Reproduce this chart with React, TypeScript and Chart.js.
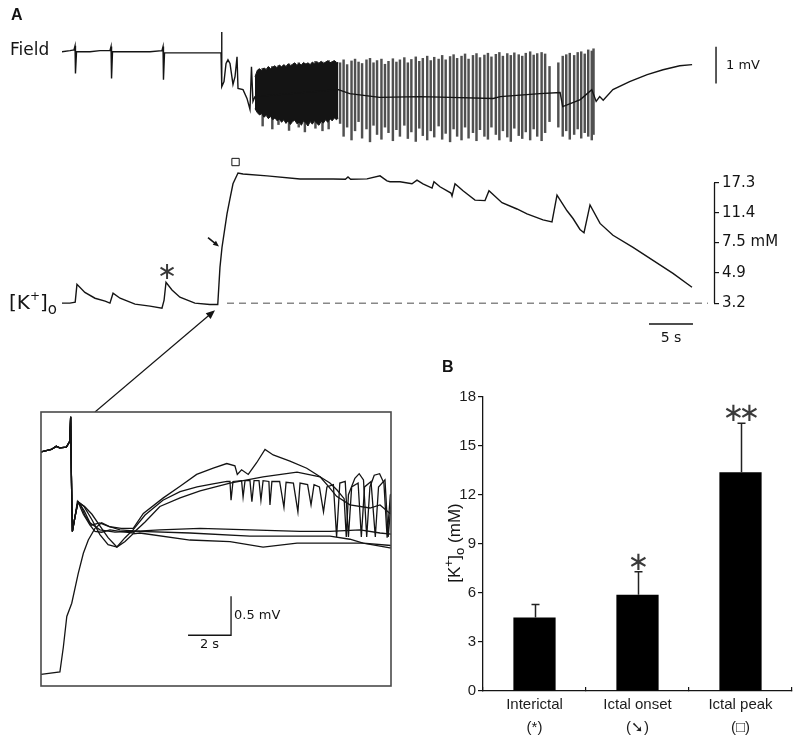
import React, { useEffect, useRef } from "react";
import { Chart, registerables } from "chart.js";

Chart.register(...registerables);

const SANS = '"DejaVu Sans", Verdana, sans-serif';
const ARIAL = '"Liberation Sans", Arial, Helvetica, sans-serif';
const INK = "#141414";

// ---------- Panel A: field potential (time s, field mV) ----------
const FIELD_T = [
  0, 0.91, 1.36, 1.48, 1.53, 1.65, 3.18, 4.32, 5.45, 5.57, 5.63, 5.74, 7.73, 10.0, 11.36, 11.48, 11.53, 11.65,
  14.55, 18.07, 18.13, 18.18, 18.41, 18.64, 18.86, 19.09, 19.43, 19.66, 19.89, 20.0, 20.57, 21.02, 21.36, 21.53,
  21.7, 21.93, 31.4, 32.7, 36.1, 40.7, 44.1, 49.0, 49.8, 54.3, 56.6, 56.9, 58.9, 60.2, 60.7, 61.1, 61.5, 62.6,
  64.5, 66.5, 68.3, 70.2, 71.6,
];
const FIELD_MV = [
  0, 0.03, 0.05, 0.16, -0.59, 0, 0, 0.03, 0.03, 0.14, -0.73, 0, 0, 0, 0.03, 0.14, -0.76, -0.03,
  -0.03, -0.03, 0.54, -0.95, -0.81, -0.32, -0.22, -0.32, -0.89, -0.68, -0.14, -1.0, -1.03, -1.27, -1.57, -0.41,
  -1.35, -1.22, -1.03, -1.14, -1.24, -1.22, -1.24, -1.27, -1.22, -1.14, -1.11, -1.49, -1.3, -1.03, -1.35, -1.22,
  -1.32, -1.03, -0.81, -0.62, -0.49, -0.38, -0.35,
];

// dense tonic discharge envelope (s, mV)
const ENV_T = [
  21.93, 22.2, 22.45, 22.7, 22.95, 23.2, 23.45, 23.7, 23.95, 24.2, 24.45, 24.7, 24.95, 25.2, 25.45, 25.7, 25.95,
  26.2, 26.45, 26.7, 26.95, 27.2, 27.45, 27.7, 27.95, 28.2, 28.45, 28.7, 28.95, 29.2, 29.45, 29.7, 29.95, 30.2,
  30.45, 30.7, 30.95, 31.2, 31.4,
];
const ENV_HI = [
  -0.68, -0.5, -0.46, -0.52, -0.44, -0.48, -0.4, -0.46, -0.42, -0.38, -0.44, -0.36, -0.41, -0.35, -0.4, -0.33, -0.38,
  -0.34, -0.3, -0.37, -0.32, -0.36, -0.29, -0.34, -0.3, -0.35, -0.28, -0.33, -0.27, -0.31, -0.26, -0.32, -0.28, -0.25,
  -0.3, -0.27, -0.24, -0.29, -0.3,
];
const ENV_LO = [
  -1.55, -1.66, -1.72, -1.68, -1.78, -1.73, -1.82, -1.76, -1.85, -1.8, -1.88, -1.83, -1.92, -1.85, -1.95, -1.87, -1.98,
  -1.9, -1.86, -1.96, -1.91, -2.0, -1.88, -1.94, -2.02, -1.9, -1.97, -1.87, -1.95, -2.0, -1.89, -1.94, -1.85, -1.92,
  -1.82, -1.88, -1.8, -1.85, -1.8,
];

// population spikes (s, top mV, bottom mV)
const SPIKE_T = [
  22.8, 23.9, 24.6, 25.8, 26.9, 27.6, 28.8, 29.6, 30.3,
  31.6, 32.0, 32.4, 32.9, 33.3, 33.7, 34.1, 34.6, 35.0, 35.4,
  35.8, 36.3, 36.7, 37.1, 37.6, 38.0, 38.4, 38.9, 39.3, 39.7,
  40.2, 40.6, 41.0, 41.5, 41.9, 42.3, 42.8, 43.2, 43.6, 44.1,
  44.5, 44.9, 45.4, 45.8, 46.2, 46.7, 47.1, 47.5, 48.0, 48.4,
  48.8, 49.3, 49.7, 50.1, 50.6, 51.0, 51.4, 51.9, 52.3, 52.7,
  53.2, 53.6, 54.0, 54.5, 54.9, 55.4, 56.4, 56.9, 57.3, 57.7,
  58.2, 58.6, 59.0, 59.4, 59.8, 60.2, 60.4,
];
const SPIKE_HI = [
  -0.45, -0.4, -0.38, -0.33, -0.3, -0.32, -0.26, -0.28, -0.24,
  -0.3, -0.22, -0.35, -0.25, -0.2, -0.28, -0.32, -0.22, -0.18, -0.3,
  -0.24, -0.2, -0.34, -0.26, -0.19, -0.28, -0.22, -0.16, -0.3, -0.21,
  -0.14, -0.26, -0.18, -0.12, -0.24, -0.15, -0.2, -0.1, -0.22, -0.13,
  -0.08, -0.18, -0.12, -0.06, -0.2, -0.1, -0.05, -0.16, -0.09, -0.04,
  -0.14, -0.07, -0.02, -0.12, -0.05, -0.1, -0.03, -0.08, -0.12, -0.04,
  0.0, -0.09, -0.05, -0.02, -0.06, -0.4, -0.3, -0.12, -0.08, -0.04,
  -0.1, -0.02, 0.0, -0.06, 0.05, 0.02, 0.08,
];
const SPIKE_LO = [
  -2.02, -2.1, -1.98, -2.14, -2.05, -2.18, -2.08, -2.15, -2.1,
  -1.95, -2.3, -2.05, -2.4, -2.15, -1.9, -2.35, -2.1, -2.45, -2.0,
  -2.25, -2.38, -2.05, -2.2, -2.42, -2.12, -2.3, -2.0, -2.36, -2.18,
  -2.44, -2.08, -2.28, -2.4, -2.15, -2.32, -2.02, -2.38, -2.22, -2.45,
  -2.1, -2.3, -2.4, -2.05, -2.35, -2.2, -2.42, -2.12, -2.3, -2.38,
  -2.05, -2.25, -2.4, -2.15, -2.32, -2.44, -2.08, -2.28, -2.36, -2.18,
  -2.4, -2.1, -2.3, -2.42, -2.2, -1.9, -2.05, -2.3, -2.15, -2.38,
  -2.25, -2.1, -2.35, -2.2, -2.3, -2.4, -2.25,
];

// ---------- Panel A: [K+]o (time s, mM) ----------
const K_T = [
  0, 0.9, 1.5, 1.7, 2.6, 3.75, 4.9, 5.45, 5.8, 6.6, 8.3, 10.0, 11.36, 11.6, 11.82, 12.5, 13.4, 15.1, 16.8, 17.7,
  17.95, 18.18, 18.75, 19.1, 19.43, 20.0, 20.57, 23.3, 27.05, 30.8, 32.2, 32.5, 32.8, 34.66, 36.14, 36.93, 37.27,
  38.41, 39.77, 40.34, 41.02, 42.05, 42.27, 42.95, 44.2, 44.32, 44.66, 45.57, 46.93, 48.07, 48.52, 50.0, 51.7,
  52.84, 54.66, 55.68, 56.25, 57.39, 58.07, 58.86, 59.32, 60.0, 61.14, 62.61, 64.89, 67.16, 69.43, 71.59,
];
const K_MM = [
  3.2, 3.2, 3.25, 4.17, 3.72, 3.43, 3.29, 3.2, 3.68, 3.43, 3.16, 3.07, 2.98, 3.34, 4.29, 3.85, 3.48, 3.2, 3.14, 3.14,
  5.29, 6.99, 11.2, 14.0, 17.1, 19.9, 19.6, 19.1, 18.3, 18.3, 18.2, 18.8, 18.2, 18.3, 19.1, 17.8, 17.6,
  17.6, 17.1, 18.0, 17.1, 16.1, 17.6, 16.4, 15.0, 14.4, 17.1, 15.5, 13.6, 13.5, 15.5, 13.1, 12.0,
  11.2, 10.3, 10.0, 14.6, 11.7, 10.5, 9.0, 8.6, 12.7, 9.8, 8.3, 7.0, 5.83, 4.86, 4.0,
];
const K_TICKS = [3.2, 4.9, 7.5, 11.4, 17.3];
const K_BASE_T = [18.75, 73.4];
const K_BASE = 3.2;
const PEAK_MARK = [19.72, 23.2]; // open square (s, mM)
const STAR_MARK = [11.93, 5.0]; // interictal asterisk (s, mM)
const ONSET_ARROW = [16.59, 8.03, 17.84, 7.08]; // t0, k0, t1, k1
const ZOOM_ARROW_TIP = [17.39, 2.9];
const ZOOM_ARROW_TAIL_T = 3.75;
const FIELD_BAR = [74.32, 0.135, -0.865]; // t, top mV, bottom mV (1 mV)
const TIME_BAR = [66.7, 71.7, 2.39]; // 5 s

// ---------- Inset (time s, mV) ----------
const ONSET_T = [0, 0.48, 0.71, 0.87, 1.18, 1.33, 1.38, 1.41, 1.46, 1.57];
const ONSET_V = [3.0, 3.03, 3.07, 3.05, 3.06, 3.13, 3.45, 2.75, 1.98, 2.15];
const TR_A_T = [1.69, 1.85, 2.03, 2.34, 2.73, 3.2, 3.73, 4.29, 4.76, 5.69, 6.47, 7.24, 8.01, 8.64, 9.02, 9.13, 9.33, 9.64, 10.03, 10.42, 10.8, 11.58, 12.36, 12.98, 13.36, 13.75, 14.37, 15.3, 15.77, 16.23, 16.5];
const TR_A_V = [2.36, 2.32, 2.19, 2.06, 2.09, 2.04, 2.02, 2.02, 2.21, 2.41, 2.56, 2.71, 2.79, 2.85, 2.82, 2.71, 2.77, 2.71, 2.86, 3.03, 2.96, 2.88, 2.79, 2.68, 2.56, 2.43, 2.32, 2.28, 2.32, 2.21, 2.2];
const TR_B_T = [1.72, 2.0, 2.37, 2.74, 3.12, 3.53, 3.91, 4.28, 4.84, 5.67, 6.47, 7.26, 8.0, 8.65, 8.79, 8.84, 8.93, 9.33, 9.4, 9.49, 9.72, 9.81, 9.91, 10.14, 10.23, 10.33, 10.6, 10.65, 10.74, 11.1, 11.3, 11.4, 11.74, 11.95, 12.05, 12.4, 12.56, 12.7, 12.95, 13.14, 13.3, 13.6, 13.75, 13.9, 14.15, 14.3, 14.45, 14.75, 14.9, 15.05, 15.35, 15.55, 15.7, 16.0, 16.15, 16.3];
const TR_B_V = [2.36, 2.3, 2.13, 1.94, 1.81, 1.78, 1.9, 2.0, 2.19, 2.38, 2.49, 2.55, 2.59, 2.62, 2.62, 2.38, 2.62, 2.63, 2.42, 2.63, 2.63, 2.36, 2.63, 2.63, 2.38, 2.63, 2.62, 2.32, 2.62, 2.62, 2.29, 2.61, 2.6, 2.23, 2.6, 2.58, 2.32, 2.58, 2.55, 2.23, 2.55, 2.58, 1.91, 2.6, 2.62, 1.91, 2.55, 2.6, 1.91, 2.55, 2.62, 1.91, 2.55, 2.64, 1.91, 2.4];
const TR_C_T = [1.72, 1.97, 2.28, 2.51, 2.82, 3.21, 3.67, 4.29, 4.84, 5.53, 6.47, 7.4, 8.79, 10.33, 11.91, 12.98, 13.44, 13.77, 14.1, 14.2, 14.3, 14.6, 14.8, 15.0, 15.15, 15.3, 15.5, 15.75, 15.95, 16.1, 16.25, 16.5];
const TR_C_V = [2.36, 2.2, 2.06, 1.98, 1.97, 2.0, 1.98, 1.96, 2.1, 2.3, 2.41, 2.5, 2.6, 2.68, 2.74, 2.68, 2.6, 2.51, 2.4, 1.91, 2.45, 2.66, 2.72, 2.64, 1.91, 2.55, 2.7, 2.72, 2.6, 1.9, 2.45, 2.5];
const TR_D_T = [1.72, 2.0, 2.28, 2.74, 3.44, 4.28, 5.53, 7.4, 9.72, 12.05, 13.44, 14.84, 15.77, 16.5];
const TR_D_V = [2.36, 2.25, 2.09, 2.0, 1.97, 1.98, 2.0, 2.02, 2.0, 1.98, 1.98, 2.0, 1.96, 1.94];
const TR_E_T = [1.72, 2.03, 2.37, 2.74, 3.12, 3.53, 3.91, 4.28, 4.6, 6.93, 8.79, 10.33, 11.91, 14.98, 16.23, 16.5];
const TR_E_V = [2.36, 2.3, 2.2, 2.05, 1.9, 1.78, 1.85, 1.95, 1.96, 1.87, 1.85, 1.78, 1.83, 1.83, 1.77, 1.77];
const TR_K_T = [0, 0.88, 1.04, 1.2, 1.43, 1.73, 1.97, 2.2, 2.51, 2.82, 3.21, 3.67, 4.6, 6.93, 9.72, 12.05, 13.44, 14.37, 14.98, 16.28, 16.5];
const TR_K_V = [0.15, 0.18, 0.5, 0.89, 1.06, 1.44, 1.7, 1.87, 2.02, 2.09, 2.04, 2.0, 1.98, 1.96, 1.92, 1.92, 1.92, 1.88, 1.83, 1.8, 1.8];
const INSET_BAR = [6.84, 8.84, 0.65, 1.15]; // 2 s, 0.5 mV

// ---------- Panel B ----------
const BAR_LABELS = [["Interictal", "(*)"], ["Ictal onset", "(\u2798)"], ["Ictal peak", "(\u25A1)"]];
const BAR_VALUES = [4.5, 5.9, 13.4];
const BAR_SEM = [0.8, 1.4, 3.0];
const BAR_SIG = [0, 1, 2]; // number of asterisks
const B_TICK_STEP = 3;

const pts = (xs: number[], ys: number[]) => xs.map((x, i) => ({ x, y: ys[i] }));

function drawArrow(ctx: any, x0: number, y0: number, x1: number, y1: number, head: number, lw: number) {
  const a = Math.atan2(y1 - y0, x1 - x0);
  ctx.lineWidth = lw;
  ctx.beginPath();
  ctx.moveTo(x0, y0);
  ctx.lineTo(x1 - Math.cos(a) * head * 0.7, y1 - Math.sin(a) * head * 0.7);
  ctx.stroke();
  const w = head * 0.42;
  ctx.beginPath();
  ctx.moveTo(x1, y1);
  ctx.lineTo(x1 - head * Math.cos(a) + w * Math.sin(a), y1 - head * Math.sin(a) - w * Math.cos(a));
  ctx.lineTo(x1 - head * Math.cos(a) - w * Math.sin(a), y1 - head * Math.sin(a) + w * Math.cos(a));
  ctx.closePath();
  ctx.fill();
}

const traceDecor = {
  id: "traceDecor",
  afterDatasetsDraw(chart: any) {
    const { ctx } = chart;
    const xs = chart.scales.x, yF = chart.scales.yF, yK = chart.scales.yK;
    ctx.save();
    ctx.strokeStyle = INK;
    ctx.fillStyle = INK;
    // K axis spine between first and last tick
    const ax = Math.round(yK.left) + 0.5;
    ctx.lineWidth = 1.3;
    ctx.beginPath();
    ctx.moveTo(ax, yK.getPixelForValue(K_TICKS[0]));
    ctx.lineTo(ax, yK.getPixelForValue(K_TICKS[K_TICKS.length - 1]));
    ctx.stroke();
    // 1 mV bar
    const fx = xs.getPixelForValue(FIELD_BAR[0]);
    const fy0 = yF.getPixelForValue(FIELD_BAR[1]);
    const fy1 = yF.getPixelForValue(FIELD_BAR[2]);
    ctx.lineWidth = 1.4;
    ctx.beginPath();
    ctx.moveTo(fx, fy0);
    ctx.lineTo(fx, fy1);
    ctx.stroke();
    ctx.font = `13px ${SANS}`;
    ctx.textAlign = "left";
    ctx.textBaseline = "middle";
    ctx.fillText("1 mV", fx + 10, (fy0 + fy1) / 2);
    // 5 s bar
    const tx0 = xs.getPixelForValue(TIME_BAR[0]);
    const tx1 = xs.getPixelForValue(TIME_BAR[1]);
    const ty = yK.getPixelForValue(TIME_BAR[2]);
    ctx.beginPath();
    ctx.moveTo(tx0, ty);
    ctx.lineTo(tx1, ty);
    ctx.stroke();
    ctx.font = `14px ${SANS}`;
    ctx.textAlign = "center";
    ctx.fillText("5 s", (tx0 + tx1) / 2, ty + 14);
    // asterisk on interictal event
    ctx.font = `24px ${SANS}`;
    ctx.fillStyle = "#3a3a3a";
    ctx.fillText("\u2217", xs.getPixelForValue(STAR_MARK[0]), yK.getPixelForValue(STAR_MARK[1]) + 1);
    ctx.fillStyle = INK;
    // onset arrow
    drawArrow(
      ctx,
      xs.getPixelForValue(ONSET_ARROW[0]), yK.getPixelForValue(ONSET_ARROW[1]),
      xs.getPixelForValue(ONSET_ARROW[2]), yK.getPixelForValue(ONSET_ARROW[3]),
      6, 1.6
    );
    // arrow from inset to trace
    drawArrow(
      ctx,
      xs.getPixelForValue(ZOOM_ARROW_TAIL_T), chart.height,
      xs.getPixelForValue(ZOOM_ARROW_TIP[0]), yK.getPixelForValue(ZOOM_ARROW_TIP[1]),
      9, 1.2
    );
    ctx.restore();
  },
};

function TraceChart() {
  const ref = useRef<HTMLCanvasElement>(null);
  useEffect(() => {
    const spikes = SPIKE_T.map((t, i) => ({ x: t, y: [SPIKE_LO[i], SPIKE_HI[i]] }));
    const chart = new Chart(ref.current as HTMLCanvasElement, {
      type: "line",
      data: {
        datasets: [
          {
            data: [{ x: PEAK_MARK[0], y: PEAK_MARK[1] }],
            yAxisID: "yK",
            showLine: false,
            pointStyle: "rect",
            pointRadius: 5.2,
            backgroundColor: "#fff",
            borderColor: INK,
            borderWidth: 1,
          } as any,
          { data: pts(K_T, K_MM), yAxisID: "yK", borderColor: INK, borderWidth: 1.4, pointRadius: 0 },
          {
            data: K_BASE_T.map((t) => ({ x: t, y: K_BASE })),
            yAxisID: "yK",
            borderColor: "#888",
            borderWidth: 1.5,
            borderDash: [7, 5],
            pointRadius: 0,
          },
          { data: pts(FIELD_T, FIELD_MV), yAxisID: "yF", borderColor: INK, borderWidth: 1.4, pointRadius: 0 },
          {
            data: pts(ENV_T, ENV_HI),
            yAxisID: "yF",
            borderColor: INK,
            borderWidth: 1,
            pointRadius: 0,
            fill: "+1",
            backgroundColor: INK,
          },
          { data: pts(ENV_T, ENV_LO), yAxisID: "yF", borderColor: INK, borderWidth: 1, pointRadius: 0, fill: false },
          {
            type: "bar",
            data: spikes,
            yAxisID: "yF",
            xAxisID: "x",
            backgroundColor: "#505050",
            barThickness: 1.8,
            borderWidth: 0,
          } as any,
        ],
      },
      options: {
        responsive: false,
        animation: false,
        events: [],
        layout: { padding: { left: 62, right: 0, top: 10, bottom: 82 } },
        plugins: { legend: { display: false }, tooltip: { enabled: false } },
        elements: { line: { tension: 0 } },
        scales: {
          x: { type: "linear", min: 0, max: 74.09, display: false, offset: false },
          yF: { type: "linear", min: -7.568, max: 1.081, display: false },
          yK: {
            type: "logarithmic",
            position: "right",
            min: 2.196,
            max: 190.5,
            bounds: "data",
            afterBuildTicks: (s: any) => {
              s.ticks = K_TICKS.map((v) => ({ value: v }));
            },
            afterFit: (s: any) => {
              s.width = 86;
            },
            border: { display: false },
            grid: { drawOnChartArea: false, drawTicks: true, tickLength: 5, color: INK, lineWidth: 1.2 },
            ticks: {
              autoSkip: false,
              padding: 3,
              color: INK,
              font: { family: SANS, size: 15 },
              callback: (v: any) => (Number(v) === 7.5 ? "7.5 mM" : String(v)),
            },
          },
        } as any,
      },
      plugins: [traceDecor],
    });
    return () => chart.destroy();
  }, []);
  return (
    <canvas
      ref={ref}
      width={800}
      height={412}
      style={{ position: "absolute", left: 0, top: 0, width: 800, height: 412 }}
    />
  );
}

const insetDecor = {
  id: "insetDecor",
  afterDatasetsDraw(chart: any) {
    const { ctx, chartArea } = chart;
    const xs = chart.scales.x, ys = chart.scales.y;
    ctx.save();
    ctx.strokeStyle = "#4a4a4a";
    ctx.lineWidth = 1.6;
    ctx.strokeRect(chartArea.left, chartArea.top, chartArea.right - chartArea.left, chartArea.bottom - chartArea.top);
    ctx.strokeStyle = INK;
    ctx.fillStyle = INK;
    ctx.lineWidth = 1.3;
    const x0 = xs.getPixelForValue(INSET_BAR[0]);
    const x1 = xs.getPixelForValue(INSET_BAR[1]);
    const y0 = ys.getPixelForValue(INSET_BAR[2]);
    const y1 = ys.getPixelForValue(INSET_BAR[3]);
    ctx.beginPath();
    ctx.moveTo(x0, y0);
    ctx.lineTo(x1, y0);
    ctx.lineTo(x1, y1);
    ctx.stroke();
    ctx.font = `13px ${SANS}`;
    ctx.textBaseline = "middle";
    ctx.textAlign = "left";
    ctx.fillText("0.5 mV", x1 + 3, (y0 + y1) / 2);
    ctx.textAlign = "center";
    ctx.fillText("2 s", (x0 + x1) / 2, y0 + 9);
    ctx.restore();
  },
};

function InsetChart() {
  const ref = useRef<HTMLCanvasElement>(null);
  useEffect(() => {
    const trace = (tt: number[], vv: number[]) => ({
      data: pts([...ONSET_T, ...tt], [...ONSET_V, ...vv]),
      borderColor: INK,
      borderWidth: 1.3,
      pointRadius: 0,
    });
    const chart = new Chart(ref.current as HTMLCanvasElement, {
      type: "line",
      data: {
        datasets: [
          trace(TR_A_T, TR_A_V),
          trace(TR_B_T, TR_B_V),
          trace(TR_C_T, TR_C_V),
          trace(TR_D_T, TR_D_V),
          trace(TR_E_T, TR_E_V),
          { data: pts(TR_K_T, TR_K_V), borderColor: INK, borderWidth: 1.3, pointRadius: 0 },
        ],
      },
      options: {
        responsive: false,
        animation: false,
        events: [],
        layout: { padding: 1 },
        plugins: { legend: { display: false }, tooltip: { enabled: false } },
        elements: { line: { tension: 0 } },
        scales: {
          x: { type: "linear", min: 0, max: 16.28, display: false },
          y: { type: "linear", min: 0, max: 3.51, display: false },
        },
      },
      plugins: [insetDecor],
    });
    return () => chart.destroy();
  }, []);
  return (
    <canvas
      ref={ref}
      width={352}
      height={276}
      style={{ position: "absolute", left: 40, top: 411, width: 352, height: 276 }}
    />
  );
}

const barDecor = {
  id: "barDecor",
  afterDatasetsDraw(chart: any) {
    const { ctx } = chart;
    const ys = chart.scales.y;
    const meta = chart.getDatasetMeta(0);
    ctx.save();
    ctx.strokeStyle = "#222";
    ctx.fillStyle = "#3a3a3a";
    meta.data.forEach((bar: any, i: number) => {
      const x = Math.round(bar.x) + 0.5;
      const top = ys.getPixelForValue(BAR_VALUES[i]);
      const hi = ys.getPixelForValue(BAR_VALUES[i] + BAR_SEM[i]);
      ctx.lineWidth = 1.5;
      ctx.beginPath();
      ctx.moveTo(x, top);
      ctx.lineTo(x, hi);
      ctx.moveTo(x - 4, hi);
      ctx.lineTo(x + 4, hi);
      ctx.stroke();
      const n = BAR_SIG[i];
      ctx.font = `26px ${SANS}`;
      ctx.textAlign = "center";
      ctx.textBaseline = "middle";
      for (let j = 0; j < n; j++) {
        ctx.fillText("\u2217", x + (j - (n - 1) / 2) * 16, hi - 9);
      }
    });
    ctx.restore();
  },
};

function BarChart() {
  const ref = useRef<HTMLCanvasElement>(null);
  useEffect(() => {
    const chart = new Chart(ref.current as HTMLCanvasElement, {
      type: "bar",
      data: {
        labels: BAR_LABELS as any,
        datasets: [
          {
            data: BAR_VALUES,
            backgroundColor: "#000",
            borderWidth: 0,
            barPercentage: 0.41,
            categoryPercentage: 1,
          },
        ],
      },
      options: {
        responsive: false,
        animation: false,
        events: [],
        layout: { padding: { left: 0, right: 8, top: 47, bottom: 0 } },
        plugins: { legend: { display: false }, tooltip: { enabled: false } },
        scales: {
          x: {
            afterFit: (s: any) => {
              s.height = 53;
            },
            grid: {
              display: true,
              drawOnChartArea: false,
              drawTicks: true,
              tickLength: -4,
              color: INK,
              lineWidth: 1.2,
              offset: true,
            },
            border: { display: true, color: INK, width: 1.3 },
            ticks: {
              autoSkip: false,
              maxRotation: 0,
              padding: 6.5,
              color: "#1c1c1c",
              font: { family: ARIAL, size: 15, lineHeight: 1.53 },
            },
          },
          y: {
            min: 0,
            max: 18,
            afterFit: (s: any) => {
              s.width = 53;
            },
            grid: { drawOnChartArea: false, drawTicks: true, tickLength: 5, color: INK, lineWidth: 1.2 },
            border: { display: true, color: INK, width: 1.3 },
            ticks: {
              stepSize: B_TICK_STEP,
              padding: 2,
              color: "#1c1c1c",
              font: { family: ARIAL, size: 15 },
            },
          },
        } as any,
      },
      plugins: [barDecor],
    });
    return () => chart.destroy();
  }, []);
  return (
    <canvas
      ref={ref}
      width={370}
      height={394}
      style={{ position: "absolute", left: 430, top: 350, width: 370, height: 394 }}
    />
  );
}

function Label(props: { x: number; base: number; size: number; family: string; bold?: boolean; children: any }) {
  const { x, base, size, family, bold, children } = props;
  return (
    <div
      style={{
        position: "absolute",
        left: x,
        top: base - 0.846 * size,
        fontSize: size,
        lineHeight: `${size}px`,
        fontFamily: family,
        fontWeight: bold ? 700 : 400,
        color: INK,
        whiteSpace: "nowrap",
      }}
    >
      {children}
    </div>
  );
}

export default function App() {
  return (
    <div
      style={{
        position: "absolute",
        left: 0,
        top: 0,
        width: 800,
        height: 744,
        background: "#fff",
        overflow: "hidden",
      }}
    >
      <TraceChart />
      <InsetChart />
      <BarChart />
      <Label x={11} base={21} size={16} family={ARIAL} bold>
        A
      </Label>
      <Label x={10} base={55} size={17} family={SANS}>
        Field
      </Label>
      <Label x={9} base={309} size={20} family={SANS}>
        [K<span style={{ fontSize: 12, position: "relative", top: -9 }}>+</span>]
        <span style={{ fontSize: 15, position: "relative", top: 5 }}>o</span>
      </Label>
      <Label x={442} base={373} size={16} family={ARIAL} bold>
        B
      </Label>
      <div
        style={{
          position: "absolute",
          left: 455,
          top: 543,
          transform: "translate(-50%, -50%) rotate(-90deg)",
          fontFamily: ARIAL,
          fontSize: 17,
          lineHeight: "17px",
          color: INK,
          whiteSpace: "nowrap",
        }}
      >
        [K<span style={{ fontSize: 12, position: "relative", top: -7 }}>+</span>]
        <span style={{ fontSize: 13, position: "relative", top: 4 }}>o</span> (mM)
      </div>
    </div>
  );
}
